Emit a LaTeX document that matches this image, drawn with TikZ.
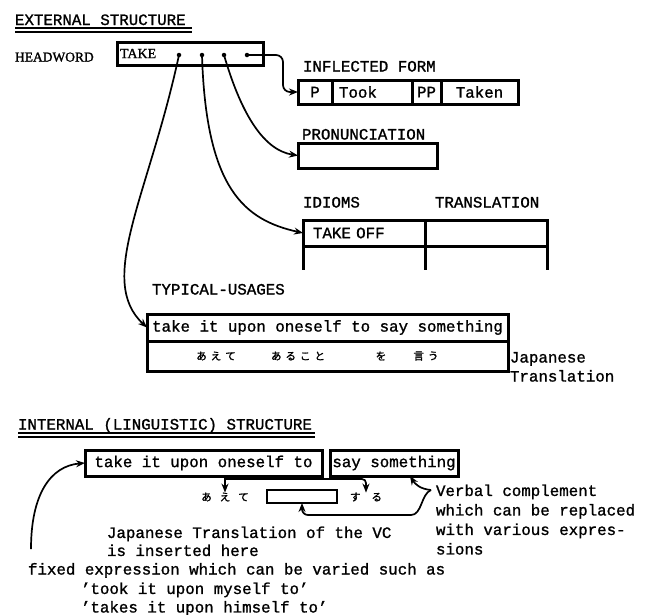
\documentclass[tikz,border=0pt]{standalone}
\usepackage{fontspec}
\setmainfont[FakeBold=1.2]{Liberation Mono}
\newfontfamily\hwfont[FakeBold=1.5]{Liberation Serif}
\newfontfamily\cjk[FakeBold=1.5]{Noto Sans CJK JP}
\usetikzlibrary{arrows.meta, positioning}

\newcommand{\kgap}[1][4pt]{\hspace{#1}}

\begin{document}
\begin{tikzpicture}[x=1pt, y=-1pt, >={Stealth[length=9pt,width=7pt]},
    every node/.style={font=\fontsize{15.8}{19}\selectfont, inner sep=0pt, outer sep=0pt},
    lbl/.style={anchor=base west},
    cell/.style={draw, line width=3pt, minimum height=24pt},
    conn/.style={->, line width=1.7pt},
    uline/.style={line width=1.1pt},
    kana/.style={font=\cjk\fontsize{10.5}{10.5}\selectfont},
    dotpt/.style={circle, fill, minimum size=4.5pt}]
    \useasboundingbox (0,0) rectangle (650,614);

    % external structure
    \node[lbl] (ext) at (15,25) {EXTERNAL STRUCTURE};
    \draw[uline] ([yshift=-3pt]ext.base west) -- ([xshift=6pt,yshift=-3pt]ext.base east);
    \draw[uline] ([yshift=-7pt]ext.base west) -- ([xshift=6pt,yshift=-7pt]ext.base east);

    \node[lbl, font=\hwfont\fontsize{13.5}{16}\selectfont] (hw) at (15,61.5) {HEADWORD};
    \node[cell, minimum width=146pt, minimum height=23pt, text width=140pt, align=left,
          font=\hwfont\fontsize{14}{16}\selectfont] (take) at (190,53.5) {TAKE};
    \foreach \x/\n in {179/d1, 202/d2, 224/d3, 247/d4}
      \node[dotpt] (\n) at (\x,55) {};

    % inflected form
    \node[lbl] (infl) at (303,71.5) {INFLECTED FORM};
    \node[cell, minimum width=34pt, anchor=west] (p) at (298,92) {P};
    \node[cell, minimum width=80pt, text width=66pt, align=left, right=0pt of p] (took) {Took};
    \node[cell, minimum width=29pt, right=0pt of took] (pp) {PP};
    \node[cell, minimum width=77pt, right=0pt of pp] (taken) {Taken};

    % pronunciation
    \node[lbl] (pronlbl) at (302,139.5) {PRONUNCIATION};
    \node[cell, minimum width=139pt, minimum height=25pt, anchor=west] (pron) at (298,155.5) {};

    % idioms
    \node[lbl] (idlbl) at (303,207.5) {IDIOMS};
    \node[lbl] (trlbl) at (435,207.5) {TRANSLATION};
    \node[cell, minimum width=122pt, minimum height=26pt, text width=102pt, align=left,
          anchor=north west] (idiom) at (303,220) {TAKE OFF};
    \node[cell, minimum width=122pt, minimum height=26pt, right=0pt of idiom] (trans) {};
    \draw[line width=3pt] (idiom.south west) -- ++(0,24);
    \draw[line width=3pt] (idiom.south east) -- ++(0,24);
    \draw[line width=3pt] (trans.south east) -- ++(0,24);

    % typical usages
    \node[lbl] (tylbl) at (152,294.5) {TYPICAL-USAGES};
    \node[cell, minimum width=361pt, minimum height=27pt, anchor=north west] (usage) at (147,314)
        {take it upon oneself to say something};
    \node[cell, minimum width=361pt, minimum height=30pt, below=0pt of usage] (usagejp) {};
    \node[kana] (jp1) at (216,356) {あ\kgap え\kgap て};
    \node[kana] (jp2) at (298,356) {あ\kgap る\kgap こ\kgap と};
    \node[kana] (jp3) at (381,356) {を};
    \node[kana] (jp4) at (426,356) {言\kgap う};
    \node[lbl] (jpl1) at (510,362.5) {Japanese};
    \node[lbl] (jpl2) at (510,381.5) {Translation};

    % connectors from the headword
    \draw[conn, rounded corners=7pt] (d4.center) -| ([xshift=-15pt]p.west) -- (p.west);
    \draw[conn] (d3.center) .. controls (240,110) and (262,150) .. (pron.west);
    \draw[conn] (d2.center) .. controls (206,190) and (245,220) .. (idiom.west);
    \draw[conn] (d1.center) .. controls (149,195) and (96,280) .. (usage.west);

    % internal structure
    \node[lbl] (int) at (18,429.5) {INTERNAL (LINGUISTIC) STRUCTURE};
    \draw[uline] ([yshift=-3.5pt]int.base west) -- ([xshift=3pt,yshift=-3.5pt]int.base east);
    \draw[uline] ([yshift=-7.5pt]int.base west) -- ([xshift=3pt,yshift=-7.5pt]int.base east);

    \node[cell, minimum width=237pt, minimum height=26pt, anchor=north west] (fixbox) at (85,450)
        {take it upon oneself to};
    \node[cell, minimum width=128pt, minimum height=26pt, anchor=north west] (vcbox) at (330,450)
        {say something};
    \node[kana] (ate) at (225,497) {あ\kgap[8pt]え\kgap[8pt]て};
    \node[cell, line width=2.4pt, minimum width=70pt, minimum height=13pt] (slot) at (302,496.5) {};
    \node[kana] (suru) at (366,497) {す\kgap[11pt]る};

    \node[anchor=north west, align=left, font=\fontsize{15.8}{19.5}\selectfont] (vc) at (436,484.5)
        {Verbal complement\\which can be replaced\\with various expres-\\sions};
    \node[anchor=north west, align=left, font=\fontsize{15.8}{18}\selectfont] (jtv) at (107,526.5)
        {Japanese Translation of the VC\\is inserted here};
    \node[lbl] (fix) at (28,574.5) {fixed expression which can be varied such as};
    \node[anchor=north west, align=left, font=\fontsize{15.8}{18.5}\selectfont] (ex) at (81,582.5)
        {'took it upon myself to'\\'takes it upon himself to'};

    % translation arrows
    \coordinate (br) at (226,479);
    \coordinate (vtip) at (431,490);
    \coordinate (fxs) at (31,549);
    \draw[conn] (fixbox.south -| ate.north) -- (ate.north);
    \draw[conn, rounded corners=4pt] (br) -| (suru.north);
    \draw[conn] (vtip) .. controls (420,489) and (415,484) .. ([xshift=16pt]vcbox.south);
    \draw[conn, rounded corners=6pt] (vtip) .. controls (421,494) and (422,515) .. (405,515)
        -- (slot.south |- 0,515) -- (slot.south);
    \draw[conn] (fxs) .. controls (31,495) and (50,466) .. (fixbox.west);
\end{tikzpicture}
\end{document}
